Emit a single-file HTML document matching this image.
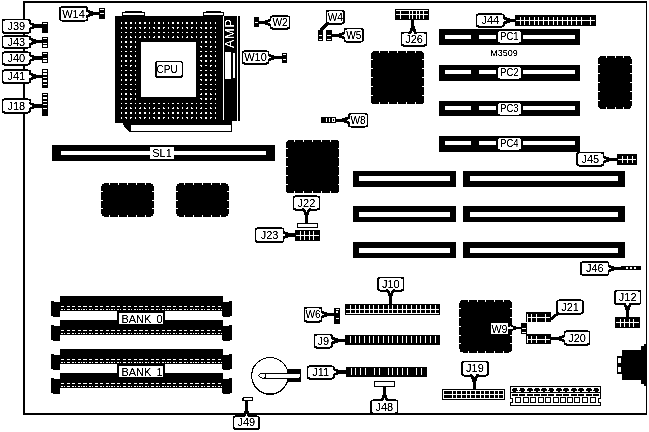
<!DOCTYPE html>
<html><head><meta charset="utf-8"><title>M3509</title>
<style>html,body{margin:0;padding:0;background:#fff;}svg{display:block;}</style></head>
<body>
<svg width="649" height="432" viewBox="0 0 649 432" font-family="Liberation Sans, sans-serif">
<defs><filter id="bw" x="0" y="0" width="100%" height="100%" color-interpolation-filters="sRGB"><feColorMatrix type="matrix" values="0.33 0.34 0.33 0 0 0.33 0.34 0.33 0 0 0.33 0.34 0.33 0 0 0 0 0 1 0"/><feComponentTransfer><feFuncR type="discrete" tableValues="0 0 0 0 0 1 1 1 1 1"/><feFuncG type="discrete" tableValues="0 0 0 0 0 1 1 1 1 1"/><feFuncB type="discrete" tableValues="0 0 0 0 0 1 1 1 1 1"/></feComponentTransfer></filter>
<filter id="tx" x="0" y="0" width="100%" height="100%" color-interpolation-filters="sRGB"><feComponentTransfer><feFuncA type="linear" slope="2.4" intercept="-0.55"/></feComponentTransfer></filter></defs>
<g filter="url(#bw)">
<rect x="0.00" y="0.00" width="649.00" height="432.00" fill="#fff" />
<rect x="23.00" y="1.00" width="624.00" height="2.00" fill="#000" />
<rect x="23.00" y="1.00" width="2.00" height="414.00" fill="#000" />
<rect x="23.00" y="413.00" width="624.00" height="2.00" fill="#000" />
<rect x="646.00" y="1.00" width="1.00" height="414.00" fill="#000" />
<rect x="115.00" y="16.00" width="106.00" height="107.00" fill="#000" />
<rect x="122.00" y="12.00" width="23.00" height="4.00" fill="#000" />
<rect x="123.00" y="13.00" width="21.00" height="2.00" fill="#fff" />
<rect x="125.00" y="11.00" width="17.00" height="1.00" fill="#000" />
<rect x="203.00" y="12.00" width="21.00" height="4.00" fill="#000" />
<rect x="204.00" y="13.00" width="19.00" height="2.00" fill="#fff" />
<rect x="206.00" y="11.00" width="15.00" height="1.00" fill="#000" />
<rect x="120.55" y="22.15" width="1.70" height="1.70" fill="#fff" />
<rect x="120.55" y="26.89" width="1.70" height="1.70" fill="#fff" />
<rect x="120.55" y="31.63" width="1.70" height="1.70" fill="#fff" />
<rect x="120.55" y="36.37" width="1.70" height="1.70" fill="#fff" />
<rect x="120.55" y="41.11" width="1.70" height="1.70" fill="#fff" />
<rect x="120.55" y="45.85" width="1.70" height="1.70" fill="#fff" />
<rect x="120.55" y="50.59" width="1.70" height="1.70" fill="#fff" />
<rect x="120.55" y="55.33" width="1.70" height="1.70" fill="#fff" />
<rect x="120.55" y="60.07" width="1.70" height="1.70" fill="#fff" />
<rect x="120.55" y="64.81" width="1.70" height="1.70" fill="#fff" />
<rect x="120.55" y="69.55" width="1.70" height="1.70" fill="#fff" />
<rect x="120.55" y="74.29" width="1.70" height="1.70" fill="#fff" />
<rect x="120.55" y="79.03" width="1.70" height="1.70" fill="#fff" />
<rect x="120.55" y="83.77" width="1.70" height="1.70" fill="#fff" />
<rect x="120.55" y="88.51" width="1.70" height="1.70" fill="#fff" />
<rect x="120.55" y="93.25" width="1.70" height="1.70" fill="#fff" />
<rect x="120.55" y="97.99" width="1.70" height="1.70" fill="#fff" />
<rect x="120.55" y="102.73" width="1.70" height="1.70" fill="#fff" />
<rect x="120.55" y="107.47" width="1.70" height="1.70" fill="#fff" />
<rect x="120.55" y="112.21" width="1.70" height="1.70" fill="#fff" />
<rect x="120.55" y="116.95" width="1.70" height="1.70" fill="#fff" />
<rect x="125.25" y="22.15" width="1.70" height="1.70" fill="#fff" />
<rect x="125.25" y="26.89" width="1.70" height="1.70" fill="#fff" />
<rect x="125.25" y="31.63" width="1.70" height="1.70" fill="#fff" />
<rect x="125.25" y="36.37" width="1.70" height="1.70" fill="#fff" />
<rect x="125.25" y="41.11" width="1.70" height="1.70" fill="#fff" />
<rect x="125.25" y="45.85" width="1.70" height="1.70" fill="#fff" />
<rect x="125.25" y="50.59" width="1.70" height="1.70" fill="#fff" />
<rect x="125.25" y="55.33" width="1.70" height="1.70" fill="#fff" />
<rect x="125.25" y="60.07" width="1.70" height="1.70" fill="#fff" />
<rect x="125.25" y="64.81" width="1.70" height="1.70" fill="#fff" />
<rect x="125.25" y="69.55" width="1.70" height="1.70" fill="#fff" />
<rect x="125.25" y="74.29" width="1.70" height="1.70" fill="#fff" />
<rect x="125.25" y="79.03" width="1.70" height="1.70" fill="#fff" />
<rect x="125.25" y="83.77" width="1.70" height="1.70" fill="#fff" />
<rect x="125.25" y="88.51" width="1.70" height="1.70" fill="#fff" />
<rect x="125.25" y="93.25" width="1.70" height="1.70" fill="#fff" />
<rect x="125.25" y="97.99" width="1.70" height="1.70" fill="#fff" />
<rect x="125.25" y="102.73" width="1.70" height="1.70" fill="#fff" />
<rect x="125.25" y="107.47" width="1.70" height="1.70" fill="#fff" />
<rect x="125.25" y="112.21" width="1.70" height="1.70" fill="#fff" />
<rect x="125.25" y="116.95" width="1.70" height="1.70" fill="#fff" />
<rect x="129.95" y="22.15" width="1.70" height="1.70" fill="#fff" />
<rect x="129.95" y="26.89" width="1.70" height="1.70" fill="#fff" />
<rect x="129.95" y="31.63" width="1.70" height="1.70" fill="#fff" />
<rect x="129.95" y="36.37" width="1.70" height="1.70" fill="#fff" />
<rect x="129.95" y="41.11" width="1.70" height="1.70" fill="#fff" />
<rect x="129.95" y="45.85" width="1.70" height="1.70" fill="#fff" />
<rect x="129.95" y="50.59" width="1.70" height="1.70" fill="#fff" />
<rect x="129.95" y="55.33" width="1.70" height="1.70" fill="#fff" />
<rect x="129.95" y="60.07" width="1.70" height="1.70" fill="#fff" />
<rect x="129.95" y="64.81" width="1.70" height="1.70" fill="#fff" />
<rect x="129.95" y="69.55" width="1.70" height="1.70" fill="#fff" />
<rect x="129.95" y="74.29" width="1.70" height="1.70" fill="#fff" />
<rect x="129.95" y="79.03" width="1.70" height="1.70" fill="#fff" />
<rect x="129.95" y="83.77" width="1.70" height="1.70" fill="#fff" />
<rect x="129.95" y="88.51" width="1.70" height="1.70" fill="#fff" />
<rect x="129.95" y="93.25" width="1.70" height="1.70" fill="#fff" />
<rect x="129.95" y="97.99" width="1.70" height="1.70" fill="#fff" />
<rect x="129.95" y="102.73" width="1.70" height="1.70" fill="#fff" />
<rect x="129.95" y="107.47" width="1.70" height="1.70" fill="#fff" />
<rect x="129.95" y="112.21" width="1.70" height="1.70" fill="#fff" />
<rect x="129.95" y="116.95" width="1.70" height="1.70" fill="#fff" />
<rect x="134.65" y="22.15" width="1.70" height="1.70" fill="#fff" />
<rect x="134.65" y="26.89" width="1.70" height="1.70" fill="#fff" />
<rect x="134.65" y="31.63" width="1.70" height="1.70" fill="#fff" />
<rect x="134.65" y="36.37" width="1.70" height="1.70" fill="#fff" />
<rect x="134.65" y="41.11" width="1.70" height="1.70" fill="#fff" />
<rect x="134.65" y="45.85" width="1.70" height="1.70" fill="#fff" />
<rect x="134.65" y="50.59" width="1.70" height="1.70" fill="#fff" />
<rect x="134.65" y="55.33" width="1.70" height="1.70" fill="#fff" />
<rect x="134.65" y="60.07" width="1.70" height="1.70" fill="#fff" />
<rect x="134.65" y="64.81" width="1.70" height="1.70" fill="#fff" />
<rect x="134.65" y="69.55" width="1.70" height="1.70" fill="#fff" />
<rect x="134.65" y="74.29" width="1.70" height="1.70" fill="#fff" />
<rect x="134.65" y="79.03" width="1.70" height="1.70" fill="#fff" />
<rect x="134.65" y="83.77" width="1.70" height="1.70" fill="#fff" />
<rect x="134.65" y="88.51" width="1.70" height="1.70" fill="#fff" />
<rect x="134.65" y="93.25" width="1.70" height="1.70" fill="#fff" />
<rect x="134.65" y="97.99" width="1.70" height="1.70" fill="#fff" />
<rect x="134.65" y="102.73" width="1.70" height="1.70" fill="#fff" />
<rect x="134.65" y="107.47" width="1.70" height="1.70" fill="#fff" />
<rect x="134.65" y="112.21" width="1.70" height="1.70" fill="#fff" />
<rect x="134.65" y="116.95" width="1.70" height="1.70" fill="#fff" />
<rect x="139.35" y="22.15" width="1.70" height="1.70" fill="#fff" />
<rect x="139.35" y="26.89" width="1.70" height="1.70" fill="#fff" />
<rect x="139.35" y="31.63" width="1.70" height="1.70" fill="#fff" />
<rect x="139.35" y="36.37" width="1.70" height="1.70" fill="#fff" />
<rect x="139.35" y="102.73" width="1.70" height="1.70" fill="#fff" />
<rect x="139.35" y="107.47" width="1.70" height="1.70" fill="#fff" />
<rect x="139.35" y="112.21" width="1.70" height="1.70" fill="#fff" />
<rect x="139.35" y="116.95" width="1.70" height="1.70" fill="#fff" />
<rect x="144.05" y="22.15" width="1.70" height="1.70" fill="#fff" />
<rect x="144.05" y="26.89" width="1.70" height="1.70" fill="#fff" />
<rect x="144.05" y="31.63" width="1.70" height="1.70" fill="#fff" />
<rect x="144.05" y="36.37" width="1.70" height="1.70" fill="#fff" />
<rect x="144.05" y="102.73" width="1.70" height="1.70" fill="#fff" />
<rect x="144.05" y="107.47" width="1.70" height="1.70" fill="#fff" />
<rect x="144.05" y="112.21" width="1.70" height="1.70" fill="#fff" />
<rect x="144.05" y="116.95" width="1.70" height="1.70" fill="#fff" />
<rect x="148.75" y="22.15" width="1.70" height="1.70" fill="#fff" />
<rect x="148.75" y="26.89" width="1.70" height="1.70" fill="#fff" />
<rect x="148.75" y="31.63" width="1.70" height="1.70" fill="#fff" />
<rect x="148.75" y="36.37" width="1.70" height="1.70" fill="#fff" />
<rect x="148.75" y="102.73" width="1.70" height="1.70" fill="#fff" />
<rect x="148.75" y="107.47" width="1.70" height="1.70" fill="#fff" />
<rect x="148.75" y="112.21" width="1.70" height="1.70" fill="#fff" />
<rect x="148.75" y="116.95" width="1.70" height="1.70" fill="#fff" />
<rect x="153.45" y="22.15" width="1.70" height="1.70" fill="#fff" />
<rect x="153.45" y="26.89" width="1.70" height="1.70" fill="#fff" />
<rect x="153.45" y="31.63" width="1.70" height="1.70" fill="#fff" />
<rect x="153.45" y="36.37" width="1.70" height="1.70" fill="#fff" />
<rect x="153.45" y="102.73" width="1.70" height="1.70" fill="#fff" />
<rect x="153.45" y="107.47" width="1.70" height="1.70" fill="#fff" />
<rect x="153.45" y="112.21" width="1.70" height="1.70" fill="#fff" />
<rect x="153.45" y="116.95" width="1.70" height="1.70" fill="#fff" />
<rect x="158.15" y="22.15" width="1.70" height="1.70" fill="#fff" />
<rect x="158.15" y="26.89" width="1.70" height="1.70" fill="#fff" />
<rect x="158.15" y="31.63" width="1.70" height="1.70" fill="#fff" />
<rect x="158.15" y="36.37" width="1.70" height="1.70" fill="#fff" />
<rect x="158.15" y="102.73" width="1.70" height="1.70" fill="#fff" />
<rect x="158.15" y="107.47" width="1.70" height="1.70" fill="#fff" />
<rect x="158.15" y="112.21" width="1.70" height="1.70" fill="#fff" />
<rect x="158.15" y="116.95" width="1.70" height="1.70" fill="#fff" />
<rect x="162.85" y="22.15" width="1.70" height="1.70" fill="#fff" />
<rect x="162.85" y="26.89" width="1.70" height="1.70" fill="#fff" />
<rect x="162.85" y="31.63" width="1.70" height="1.70" fill="#fff" />
<rect x="162.85" y="36.37" width="1.70" height="1.70" fill="#fff" />
<rect x="162.85" y="102.73" width="1.70" height="1.70" fill="#fff" />
<rect x="162.85" y="107.47" width="1.70" height="1.70" fill="#fff" />
<rect x="162.85" y="112.21" width="1.70" height="1.70" fill="#fff" />
<rect x="162.85" y="116.95" width="1.70" height="1.70" fill="#fff" />
<rect x="167.55" y="22.15" width="1.70" height="1.70" fill="#fff" />
<rect x="167.55" y="26.89" width="1.70" height="1.70" fill="#fff" />
<rect x="167.55" y="31.63" width="1.70" height="1.70" fill="#fff" />
<rect x="167.55" y="36.37" width="1.70" height="1.70" fill="#fff" />
<rect x="167.55" y="102.73" width="1.70" height="1.70" fill="#fff" />
<rect x="167.55" y="107.47" width="1.70" height="1.70" fill="#fff" />
<rect x="167.55" y="112.21" width="1.70" height="1.70" fill="#fff" />
<rect x="167.55" y="116.95" width="1.70" height="1.70" fill="#fff" />
<rect x="172.25" y="22.15" width="1.70" height="1.70" fill="#fff" />
<rect x="172.25" y="26.89" width="1.70" height="1.70" fill="#fff" />
<rect x="172.25" y="31.63" width="1.70" height="1.70" fill="#fff" />
<rect x="172.25" y="36.37" width="1.70" height="1.70" fill="#fff" />
<rect x="172.25" y="102.73" width="1.70" height="1.70" fill="#fff" />
<rect x="172.25" y="107.47" width="1.70" height="1.70" fill="#fff" />
<rect x="172.25" y="112.21" width="1.70" height="1.70" fill="#fff" />
<rect x="172.25" y="116.95" width="1.70" height="1.70" fill="#fff" />
<rect x="176.95" y="22.15" width="1.70" height="1.70" fill="#fff" />
<rect x="176.95" y="26.89" width="1.70" height="1.70" fill="#fff" />
<rect x="176.95" y="31.63" width="1.70" height="1.70" fill="#fff" />
<rect x="176.95" y="36.37" width="1.70" height="1.70" fill="#fff" />
<rect x="176.95" y="102.73" width="1.70" height="1.70" fill="#fff" />
<rect x="176.95" y="107.47" width="1.70" height="1.70" fill="#fff" />
<rect x="176.95" y="112.21" width="1.70" height="1.70" fill="#fff" />
<rect x="176.95" y="116.95" width="1.70" height="1.70" fill="#fff" />
<rect x="181.65" y="22.15" width="1.70" height="1.70" fill="#fff" />
<rect x="181.65" y="26.89" width="1.70" height="1.70" fill="#fff" />
<rect x="181.65" y="31.63" width="1.70" height="1.70" fill="#fff" />
<rect x="181.65" y="36.37" width="1.70" height="1.70" fill="#fff" />
<rect x="181.65" y="102.73" width="1.70" height="1.70" fill="#fff" />
<rect x="181.65" y="107.47" width="1.70" height="1.70" fill="#fff" />
<rect x="181.65" y="112.21" width="1.70" height="1.70" fill="#fff" />
<rect x="181.65" y="116.95" width="1.70" height="1.70" fill="#fff" />
<rect x="186.35" y="22.15" width="1.70" height="1.70" fill="#fff" />
<rect x="186.35" y="26.89" width="1.70" height="1.70" fill="#fff" />
<rect x="186.35" y="31.63" width="1.70" height="1.70" fill="#fff" />
<rect x="186.35" y="36.37" width="1.70" height="1.70" fill="#fff" />
<rect x="186.35" y="102.73" width="1.70" height="1.70" fill="#fff" />
<rect x="186.35" y="107.47" width="1.70" height="1.70" fill="#fff" />
<rect x="186.35" y="112.21" width="1.70" height="1.70" fill="#fff" />
<rect x="186.35" y="116.95" width="1.70" height="1.70" fill="#fff" />
<rect x="191.05" y="22.15" width="1.70" height="1.70" fill="#fff" />
<rect x="191.05" y="26.89" width="1.70" height="1.70" fill="#fff" />
<rect x="191.05" y="31.63" width="1.70" height="1.70" fill="#fff" />
<rect x="191.05" y="36.37" width="1.70" height="1.70" fill="#fff" />
<rect x="191.05" y="102.73" width="1.70" height="1.70" fill="#fff" />
<rect x="191.05" y="107.47" width="1.70" height="1.70" fill="#fff" />
<rect x="191.05" y="112.21" width="1.70" height="1.70" fill="#fff" />
<rect x="191.05" y="116.95" width="1.70" height="1.70" fill="#fff" />
<rect x="195.75" y="22.15" width="1.70" height="1.70" fill="#fff" />
<rect x="195.75" y="26.89" width="1.70" height="1.70" fill="#fff" />
<rect x="195.75" y="31.63" width="1.70" height="1.70" fill="#fff" />
<rect x="195.75" y="36.37" width="1.70" height="1.70" fill="#fff" />
<rect x="195.75" y="102.73" width="1.70" height="1.70" fill="#fff" />
<rect x="195.75" y="107.47" width="1.70" height="1.70" fill="#fff" />
<rect x="195.75" y="112.21" width="1.70" height="1.70" fill="#fff" />
<rect x="195.75" y="116.95" width="1.70" height="1.70" fill="#fff" />
<rect x="200.45" y="22.15" width="1.70" height="1.70" fill="#fff" />
<rect x="200.45" y="26.89" width="1.70" height="1.70" fill="#fff" />
<rect x="200.45" y="31.63" width="1.70" height="1.70" fill="#fff" />
<rect x="200.45" y="36.37" width="1.70" height="1.70" fill="#fff" />
<rect x="200.45" y="41.11" width="1.70" height="1.70" fill="#fff" />
<rect x="200.45" y="45.85" width="1.70" height="1.70" fill="#fff" />
<rect x="200.45" y="50.59" width="1.70" height="1.70" fill="#fff" />
<rect x="200.45" y="55.33" width="1.70" height="1.70" fill="#fff" />
<rect x="200.45" y="60.07" width="1.70" height="1.70" fill="#fff" />
<rect x="200.45" y="64.81" width="1.70" height="1.70" fill="#fff" />
<rect x="200.45" y="69.55" width="1.70" height="1.70" fill="#fff" />
<rect x="200.45" y="74.29" width="1.70" height="1.70" fill="#fff" />
<rect x="200.45" y="79.03" width="1.70" height="1.70" fill="#fff" />
<rect x="200.45" y="83.77" width="1.70" height="1.70" fill="#fff" />
<rect x="200.45" y="88.51" width="1.70" height="1.70" fill="#fff" />
<rect x="200.45" y="93.25" width="1.70" height="1.70" fill="#fff" />
<rect x="200.45" y="97.99" width="1.70" height="1.70" fill="#fff" />
<rect x="200.45" y="102.73" width="1.70" height="1.70" fill="#fff" />
<rect x="200.45" y="107.47" width="1.70" height="1.70" fill="#fff" />
<rect x="200.45" y="112.21" width="1.70" height="1.70" fill="#fff" />
<rect x="200.45" y="116.95" width="1.70" height="1.70" fill="#fff" />
<rect x="205.15" y="22.15" width="1.70" height="1.70" fill="#fff" />
<rect x="205.15" y="26.89" width="1.70" height="1.70" fill="#fff" />
<rect x="205.15" y="31.63" width="1.70" height="1.70" fill="#fff" />
<rect x="205.15" y="36.37" width="1.70" height="1.70" fill="#fff" />
<rect x="205.15" y="41.11" width="1.70" height="1.70" fill="#fff" />
<rect x="205.15" y="45.85" width="1.70" height="1.70" fill="#fff" />
<rect x="205.15" y="50.59" width="1.70" height="1.70" fill="#fff" />
<rect x="205.15" y="55.33" width="1.70" height="1.70" fill="#fff" />
<rect x="205.15" y="60.07" width="1.70" height="1.70" fill="#fff" />
<rect x="205.15" y="64.81" width="1.70" height="1.70" fill="#fff" />
<rect x="205.15" y="69.55" width="1.70" height="1.70" fill="#fff" />
<rect x="205.15" y="74.29" width="1.70" height="1.70" fill="#fff" />
<rect x="205.15" y="79.03" width="1.70" height="1.70" fill="#fff" />
<rect x="205.15" y="83.77" width="1.70" height="1.70" fill="#fff" />
<rect x="205.15" y="88.51" width="1.70" height="1.70" fill="#fff" />
<rect x="205.15" y="93.25" width="1.70" height="1.70" fill="#fff" />
<rect x="205.15" y="97.99" width="1.70" height="1.70" fill="#fff" />
<rect x="205.15" y="102.73" width="1.70" height="1.70" fill="#fff" />
<rect x="205.15" y="107.47" width="1.70" height="1.70" fill="#fff" />
<rect x="205.15" y="112.21" width="1.70" height="1.70" fill="#fff" />
<rect x="205.15" y="116.95" width="1.70" height="1.70" fill="#fff" />
<rect x="209.85" y="22.15" width="1.70" height="1.70" fill="#fff" />
<rect x="209.85" y="26.89" width="1.70" height="1.70" fill="#fff" />
<rect x="209.85" y="31.63" width="1.70" height="1.70" fill="#fff" />
<rect x="209.85" y="36.37" width="1.70" height="1.70" fill="#fff" />
<rect x="209.85" y="41.11" width="1.70" height="1.70" fill="#fff" />
<rect x="209.85" y="45.85" width="1.70" height="1.70" fill="#fff" />
<rect x="209.85" y="50.59" width="1.70" height="1.70" fill="#fff" />
<rect x="209.85" y="55.33" width="1.70" height="1.70" fill="#fff" />
<rect x="209.85" y="60.07" width="1.70" height="1.70" fill="#fff" />
<rect x="209.85" y="64.81" width="1.70" height="1.70" fill="#fff" />
<rect x="209.85" y="69.55" width="1.70" height="1.70" fill="#fff" />
<rect x="209.85" y="74.29" width="1.70" height="1.70" fill="#fff" />
<rect x="209.85" y="79.03" width="1.70" height="1.70" fill="#fff" />
<rect x="209.85" y="83.77" width="1.70" height="1.70" fill="#fff" />
<rect x="209.85" y="88.51" width="1.70" height="1.70" fill="#fff" />
<rect x="209.85" y="93.25" width="1.70" height="1.70" fill="#fff" />
<rect x="209.85" y="97.99" width="1.70" height="1.70" fill="#fff" />
<rect x="209.85" y="102.73" width="1.70" height="1.70" fill="#fff" />
<rect x="209.85" y="107.47" width="1.70" height="1.70" fill="#fff" />
<rect x="209.85" y="112.21" width="1.70" height="1.70" fill="#fff" />
<rect x="209.85" y="116.95" width="1.70" height="1.70" fill="#fff" />
<rect x="214.55" y="22.15" width="1.70" height="1.70" fill="#fff" />
<rect x="214.55" y="26.89" width="1.70" height="1.70" fill="#fff" />
<rect x="214.55" y="31.63" width="1.70" height="1.70" fill="#fff" />
<rect x="214.55" y="36.37" width="1.70" height="1.70" fill="#fff" />
<rect x="214.55" y="41.11" width="1.70" height="1.70" fill="#fff" />
<rect x="214.55" y="45.85" width="1.70" height="1.70" fill="#fff" />
<rect x="214.55" y="50.59" width="1.70" height="1.70" fill="#fff" />
<rect x="214.55" y="55.33" width="1.70" height="1.70" fill="#fff" />
<rect x="214.55" y="60.07" width="1.70" height="1.70" fill="#fff" />
<rect x="214.55" y="64.81" width="1.70" height="1.70" fill="#fff" />
<rect x="214.55" y="69.55" width="1.70" height="1.70" fill="#fff" />
<rect x="214.55" y="74.29" width="1.70" height="1.70" fill="#fff" />
<rect x="214.55" y="79.03" width="1.70" height="1.70" fill="#fff" />
<rect x="214.55" y="83.77" width="1.70" height="1.70" fill="#fff" />
<rect x="214.55" y="88.51" width="1.70" height="1.70" fill="#fff" />
<rect x="214.55" y="93.25" width="1.70" height="1.70" fill="#fff" />
<rect x="214.55" y="97.99" width="1.70" height="1.70" fill="#fff" />
<rect x="214.55" y="102.73" width="1.70" height="1.70" fill="#fff" />
<rect x="214.55" y="107.47" width="1.70" height="1.70" fill="#fff" />
<rect x="214.55" y="112.21" width="1.70" height="1.70" fill="#fff" />
<rect x="214.55" y="116.95" width="1.70" height="1.70" fill="#fff" />
<rect x="141.00" y="42.00" width="55.00" height="55.00" fill="#fff" />
<rect x="221.00" y="16.00" width="2.00" height="105.00" fill="#000" />
<rect x="224.00" y="16.00" width="13.00" height="105.00" fill="#000" />
<rect x="238.00" y="16.00" width="2.00" height="105.00" fill="#000" />
<rect x="225.00" y="52.00" width="6.00" height="27.00" fill="#fff" />
<rect x="233.00" y="53.00" width="2.00" height="25.00" fill="#fff" />
<polygon points="123.5,122 221,122 221,120.6 232,120.6 232,131.9 129.8,131.9 123.5,125.5" fill="#000"/>
<rect x="131.00" y="125.00" width="100.00" height="6.00" fill="#fff" />
<rect x="155.00" y="60.80" width="28.00" height="17.10" rx="2.4" ry="2.4" fill="#000"/>
<rect x="156.60" y="62.30" width="24.90" height="13.70" rx="1.2" ry="1.2" fill="#fff"/>
<rect x="52.00" y="145.00" width="223.00" height="16.00" fill="#000" />
<rect x="61.00" y="151.00" width="205.00" height="4.00" fill="#fff" />
<rect x="150.00" y="147.00" width="24.00" height="12.00" fill="#fff" />
<rect x="101" y="183" width="53" height="34" rx="5" ry="5" fill="#000"/>
<rect x="109.00" y="183.00" width="1.00" height="2.00" fill="#fff" />
<rect x="109.00" y="215.00" width="1.00" height="2.00" fill="#fff" />
<rect x="118.00" y="183.00" width="1.00" height="2.00" fill="#fff" />
<rect x="118.00" y="215.00" width="1.00" height="2.00" fill="#fff" />
<rect x="127.00" y="183.00" width="1.00" height="2.00" fill="#fff" />
<rect x="127.00" y="215.00" width="1.00" height="2.00" fill="#fff" />
<rect x="136.00" y="183.00" width="1.00" height="2.00" fill="#fff" />
<rect x="136.00" y="215.00" width="1.00" height="2.00" fill="#fff" />
<rect x="145.00" y="183.00" width="1.00" height="2.00" fill="#fff" />
<rect x="145.00" y="215.00" width="1.00" height="2.00" fill="#fff" />
<rect x="101.00" y="191.00" width="2.00" height="1.00" fill="#fff" />
<rect x="152.00" y="191.00" width="2.00" height="1.00" fill="#fff" />
<rect x="101.00" y="200.00" width="2.00" height="1.00" fill="#fff" />
<rect x="152.00" y="200.00" width="2.00" height="1.00" fill="#fff" />
<rect x="101.00" y="208.00" width="2.00" height="1.00" fill="#fff" />
<rect x="152.00" y="208.00" width="2.00" height="1.00" fill="#fff" />
<rect x="176" y="183" width="53" height="34" rx="5" ry="5" fill="#000"/>
<rect x="184.00" y="183.00" width="1.00" height="2.00" fill="#fff" />
<rect x="184.00" y="215.00" width="1.00" height="2.00" fill="#fff" />
<rect x="193.00" y="183.00" width="1.00" height="2.00" fill="#fff" />
<rect x="193.00" y="215.00" width="1.00" height="2.00" fill="#fff" />
<rect x="202.00" y="183.00" width="1.00" height="2.00" fill="#fff" />
<rect x="202.00" y="215.00" width="1.00" height="2.00" fill="#fff" />
<rect x="211.00" y="183.00" width="1.00" height="2.00" fill="#fff" />
<rect x="211.00" y="215.00" width="1.00" height="2.00" fill="#fff" />
<rect x="220.00" y="183.00" width="1.00" height="2.00" fill="#fff" />
<rect x="220.00" y="215.00" width="1.00" height="2.00" fill="#fff" />
<rect x="176.00" y="191.00" width="2.00" height="1.00" fill="#fff" />
<rect x="227.00" y="191.00" width="2.00" height="1.00" fill="#fff" />
<rect x="176.00" y="200.00" width="2.00" height="1.00" fill="#fff" />
<rect x="227.00" y="200.00" width="2.00" height="1.00" fill="#fff" />
<rect x="176.00" y="208.00" width="2.00" height="1.00" fill="#fff" />
<rect x="227.00" y="208.00" width="2.00" height="1.00" fill="#fff" />
<rect x="286" y="140" width="53.30000000000001" height="53" rx="3.5" ry="3.5" fill="#000"/>
<rect x="294.00" y="140.00" width="1.00" height="2.00" fill="#fff" />
<rect x="294.00" y="191.00" width="1.00" height="2.00" fill="#fff" />
<rect x="303.00" y="140.00" width="1.00" height="2.00" fill="#fff" />
<rect x="303.00" y="191.00" width="1.00" height="2.00" fill="#fff" />
<rect x="312.00" y="140.00" width="1.00" height="2.00" fill="#fff" />
<rect x="312.00" y="191.00" width="1.00" height="2.00" fill="#fff" />
<rect x="321.00" y="140.00" width="1.00" height="2.00" fill="#fff" />
<rect x="321.00" y="191.00" width="1.00" height="2.00" fill="#fff" />
<rect x="330.00" y="140.00" width="1.00" height="2.00" fill="#fff" />
<rect x="330.00" y="191.00" width="1.00" height="2.00" fill="#fff" />
<rect x="286.00" y="148.00" width="2.00" height="1.00" fill="#fff" />
<rect x="338.00" y="148.00" width="1.00" height="1.00" fill="#fff" />
<rect x="286.00" y="157.00" width="2.00" height="1.00" fill="#fff" />
<rect x="338.00" y="157.00" width="1.00" height="1.00" fill="#fff" />
<rect x="286.00" y="166.00" width="2.00" height="1.00" fill="#fff" />
<rect x="338.00" y="166.00" width="1.00" height="1.00" fill="#fff" />
<rect x="286.00" y="175.00" width="2.00" height="1.00" fill="#fff" />
<rect x="338.00" y="175.00" width="1.00" height="1.00" fill="#fff" />
<rect x="286.00" y="184.00" width="2.00" height="1.00" fill="#fff" />
<rect x="338.00" y="184.00" width="1.00" height="1.00" fill="#fff" />
<rect x="371" y="51" width="53" height="53" rx="3.5" ry="3.5" fill="#000"/>
<rect x="379.00" y="51.00" width="1.00" height="2.00" fill="#fff" />
<rect x="379.00" y="102.00" width="1.00" height="2.00" fill="#fff" />
<rect x="388.00" y="51.00" width="1.00" height="2.00" fill="#fff" />
<rect x="388.00" y="102.00" width="1.00" height="2.00" fill="#fff" />
<rect x="397.00" y="51.00" width="1.00" height="2.00" fill="#fff" />
<rect x="397.00" y="102.00" width="1.00" height="2.00" fill="#fff" />
<rect x="406.00" y="51.00" width="1.00" height="2.00" fill="#fff" />
<rect x="406.00" y="102.00" width="1.00" height="2.00" fill="#fff" />
<rect x="415.00" y="51.00" width="1.00" height="2.00" fill="#fff" />
<rect x="415.00" y="102.00" width="1.00" height="2.00" fill="#fff" />
<rect x="371.00" y="59.00" width="2.00" height="1.00" fill="#fff" />
<rect x="422.00" y="59.00" width="2.00" height="1.00" fill="#fff" />
<rect x="371.00" y="68.00" width="2.00" height="1.00" fill="#fff" />
<rect x="422.00" y="68.00" width="2.00" height="1.00" fill="#fff" />
<rect x="371.00" y="77.00" width="2.00" height="1.00" fill="#fff" />
<rect x="422.00" y="77.00" width="2.00" height="1.00" fill="#fff" />
<rect x="371.00" y="86.00" width="2.00" height="1.00" fill="#fff" />
<rect x="422.00" y="86.00" width="2.00" height="1.00" fill="#fff" />
<rect x="371.00" y="95.00" width="2.00" height="1.00" fill="#fff" />
<rect x="422.00" y="95.00" width="2.00" height="1.00" fill="#fff" />
<rect x="598" y="56" width="34" height="53" rx="4.5" ry="4.5" fill="#000"/>
<rect x="606.00" y="56.00" width="1.00" height="2.00" fill="#fff" />
<rect x="606.00" y="107.00" width="1.00" height="2.00" fill="#fff" />
<rect x="615.00" y="56.00" width="1.00" height="2.00" fill="#fff" />
<rect x="615.00" y="107.00" width="1.00" height="2.00" fill="#fff" />
<rect x="623.00" y="56.00" width="1.00" height="2.00" fill="#fff" />
<rect x="623.00" y="107.00" width="1.00" height="2.00" fill="#fff" />
<rect x="598.00" y="64.00" width="2.00" height="1.00" fill="#fff" />
<rect x="630.00" y="64.00" width="2.00" height="1.00" fill="#fff" />
<rect x="598.00" y="73.00" width="2.00" height="1.00" fill="#fff" />
<rect x="630.00" y="73.00" width="2.00" height="1.00" fill="#fff" />
<rect x="598.00" y="82.00" width="2.00" height="1.00" fill="#fff" />
<rect x="630.00" y="82.00" width="2.00" height="1.00" fill="#fff" />
<rect x="598.00" y="91.00" width="2.00" height="1.00" fill="#fff" />
<rect x="630.00" y="91.00" width="2.00" height="1.00" fill="#fff" />
<rect x="598.00" y="100.00" width="2.00" height="1.00" fill="#fff" />
<rect x="630.00" y="100.00" width="2.00" height="1.00" fill="#fff" />
<rect x="459.5" y="300" width="52.5" height="52.5" rx="3.5" ry="3.5" fill="#000"/>
<rect x="468.00" y="300.00" width="1.00" height="2.00" fill="#fff" />
<rect x="468.00" y="351.00" width="1.00" height="2.00" fill="#fff" />
<rect x="477.00" y="300.00" width="1.00" height="2.00" fill="#fff" />
<rect x="477.00" y="351.00" width="1.00" height="2.00" fill="#fff" />
<rect x="485.00" y="300.00" width="1.00" height="2.00" fill="#fff" />
<rect x="485.00" y="351.00" width="1.00" height="2.00" fill="#fff" />
<rect x="494.00" y="300.00" width="1.00" height="2.00" fill="#fff" />
<rect x="494.00" y="351.00" width="1.00" height="2.00" fill="#fff" />
<rect x="503.00" y="300.00" width="1.00" height="2.00" fill="#fff" />
<rect x="503.00" y="351.00" width="1.00" height="2.00" fill="#fff" />
<rect x="459.00" y="308.00" width="2.00" height="1.00" fill="#fff" />
<rect x="510.00" y="308.00" width="2.00" height="1.00" fill="#fff" />
<rect x="459.00" y="317.00" width="2.00" height="1.00" fill="#fff" />
<rect x="510.00" y="317.00" width="2.00" height="1.00" fill="#fff" />
<rect x="459.00" y="326.00" width="2.00" height="1.00" fill="#fff" />
<rect x="510.00" y="326.00" width="2.00" height="1.00" fill="#fff" />
<rect x="459.00" y="335.00" width="2.00" height="1.00" fill="#fff" />
<rect x="510.00" y="335.00" width="2.00" height="1.00" fill="#fff" />
<rect x="459.00" y="343.00" width="2.00" height="1.00" fill="#fff" />
<rect x="510.00" y="343.00" width="2.00" height="1.00" fill="#fff" />
<rect x="439.00" y="29.00" width="141.00" height="16.00" fill="#000" />
<rect x="445.00" y="35.00" width="26.00" height="4.00" fill="#fff" />
<rect x="479.00" y="35.00" width="17.00" height="4.00" fill="#fff" />
<rect x="523.00" y="35.00" width="52.00" height="4.00" fill="#fff" />
<rect x="498" y="31" width="23" height="11.4" rx="1.5" fill="#fff"/>
<rect x="439.00" y="65.00" width="141.00" height="16.00" fill="#000" />
<rect x="445.00" y="70.00" width="26.00" height="4.00" fill="#fff" />
<rect x="479.00" y="70.00" width="17.00" height="4.00" fill="#fff" />
<rect x="523.00" y="70.00" width="52.00" height="4.00" fill="#fff" />
<rect x="498" y="67" width="23" height="11.4" rx="1.5" fill="#fff"/>
<rect x="439.00" y="101.00" width="141.00" height="15.00" fill="#000" />
<rect x="445.00" y="106.00" width="26.00" height="4.00" fill="#fff" />
<rect x="479.00" y="106.00" width="17.00" height="4.00" fill="#fff" />
<rect x="523.00" y="106.00" width="52.00" height="4.00" fill="#fff" />
<rect x="498" y="103" width="23" height="11.4" rx="1.5" fill="#fff"/>
<rect x="439.00" y="136.00" width="141.00" height="16.00" fill="#000" />
<rect x="445.00" y="141.00" width="26.00" height="4.00" fill="#fff" />
<rect x="479.00" y="141.00" width="17.00" height="4.00" fill="#fff" />
<rect x="523.00" y="141.00" width="52.00" height="4.00" fill="#fff" />
<rect x="498" y="138" width="23" height="11.4" rx="1.5" fill="#fff"/>
<rect x="353.00" y="171.00" width="103.00" height="16.00" fill="#000" />
<rect x="359.00" y="176.00" width="91.00" height="5.00" fill="#fff" />
<rect x="463.00" y="171.00" width="162.00" height="16.00" fill="#000" />
<rect x="470.00" y="176.00" width="148.00" height="5.00" fill="#fff" />
<rect x="353.00" y="206.00" width="103.00" height="16.00" fill="#000" />
<rect x="359.00" y="212.00" width="91.00" height="5.00" fill="#fff" />
<rect x="463.00" y="206.00" width="162.00" height="16.00" fill="#000" />
<rect x="470.00" y="212.00" width="148.00" height="5.00" fill="#fff" />
<rect x="353.00" y="242.00" width="103.00" height="16.00" fill="#000" />
<rect x="359.00" y="248.00" width="91.00" height="5.00" fill="#fff" />
<rect x="463.00" y="242.00" width="162.00" height="16.00" fill="#000" />
<rect x="470.00" y="248.00" width="148.00" height="5.00" fill="#fff" />
<rect x="60.00" y="296.00" width="163.00" height="15.00" fill="#000" />
<polygon points="51,301 54,301 54,302 60,302 60,316.6 53,316.6 53,315.6 51,315.6" fill="#000"/>
<polygon points="232,301 229,301 229,302 222.5,302 222.5,316.6 230,316.6 230,315.6 232,315.6" fill="#000"/>
<line x1="61" y1="306.4" x2="222" y2="306.4" stroke="#fff" stroke-width="1" stroke-dasharray="3.2 2.4"/>
<line x1="61" y1="309.5" x2="222" y2="309.5" stroke="#fff" stroke-width="0.9" stroke-dasharray="2 0.8 1 1.8"/>
<rect x="60.00" y="320.00" width="163.00" height="15.00" fill="#000" />
<polygon points="51,325 54,325 54,326 60,326 60,340.6 53,340.6 53,339.6 51,339.6" fill="#000"/>
<polygon points="232,325 229,325 229,326 222.5,326 222.5,340.6 230,340.6 230,339.6 232,339.6" fill="#000"/>
<line x1="61" y1="330.4" x2="222" y2="330.4" stroke="#fff" stroke-width="1" stroke-dasharray="3.2 2.4"/>
<line x1="61" y1="333.5" x2="222" y2="333.5" stroke="#fff" stroke-width="0.9" stroke-dasharray="2 0.8 1 1.8"/>
<rect x="60.00" y="349.00" width="163.00" height="15.00" fill="#000" />
<polygon points="51,354 54,354 54,355 60,355 60,369.6 53,369.6 53,368.6 51,368.6" fill="#000"/>
<polygon points="232,354 229,354 229,355 222.5,355 222.5,369.6 230,369.6 230,368.6 232,368.6" fill="#000"/>
<line x1="61" y1="359.4" x2="222" y2="359.4" stroke="#fff" stroke-width="1" stroke-dasharray="3.2 2.4"/>
<line x1="61" y1="362.5" x2="222" y2="362.5" stroke="#fff" stroke-width="0.9" stroke-dasharray="2 0.8 1 1.8"/>
<rect x="60.00" y="373.00" width="163.00" height="15.00" fill="#000" />
<polygon points="51,378 54,378 54,379 60,379 60,393.6 53,393.6 53,392.6 51,392.6" fill="#000"/>
<polygon points="232,378 229,378 229,379 222.5,379 222.5,393.6 230,393.6 230,392.6 232,392.6" fill="#000"/>
<line x1="61" y1="383.4" x2="222" y2="383.4" stroke="#fff" stroke-width="1" stroke-dasharray="3.2 2.4"/>
<line x1="61" y1="386.5" x2="222" y2="386.5" stroke="#fff" stroke-width="0.9" stroke-dasharray="2 0.8 1 1.8"/>
<rect x="117.00" y="311.00" width="48.00" height="14.00" fill="#000" />
<rect x="119.00" y="313.00" width="44.00" height="11.00" fill="#fff" />
<rect x="117.00" y="364.00" width="48.00" height="14.00" fill="#000" />
<rect x="119.00" y="366.00" width="44.00" height="11.00" fill="#fff" />
<circle cx="270" cy="375.8" r="18.3" fill="#fff" stroke="#000" stroke-width="1.2"/>
<rect x="288.00" y="369.00" width="13.00" height="13.00" fill="#000" />
<polygon points="258,375.6 262,373 300,373 300,378.2 262,378.2" fill="#fff" stroke="#000" stroke-width="1"/>
<line x1="265.00" y1="373.00" x2="265.00" y2="378.20" stroke="#000" stroke-width="1" />
<rect x="42.00" y="22.00" width="6.00" height="11.00" fill="#000" />
<rect x="43.00" y="23.00" width="4.00" height="1.00" fill="#fff" />
<rect x="42.00" y="37.00" width="6.00" height="11.00" fill="#000" />
<rect x="43.00" y="38.00" width="4.00" height="1.00" fill="#fff" />
<rect x="43.00" y="43.00" width="4.00" height="1.00" fill="#fff" />
<rect x="43.00" y="45.00" width="4.00" height="2.00" fill="#fff" />
<rect x="42.00" y="52.00" width="6.00" height="11.00" fill="#000" />
<rect x="43.00" y="53.00" width="4.00" height="1.00" fill="#fff" />
<rect x="43.00" y="58.00" width="4.00" height="1.00" fill="#fff" />
<rect x="43.00" y="60.00" width="4.00" height="2.00" fill="#fff" />
<rect x="42.00" y="69.00" width="6.00" height="19.00" fill="#000" />
<rect x="43.00" y="70.00" width="4.00" height="2.00" fill="#fff" />
<rect x="43.00" y="73.00" width="4.00" height="2.00" fill="#fff" />
<rect x="43.00" y="77.00" width="4.00" height="1.00" fill="#fff" />
<rect x="43.00" y="80.00" width="4.00" height="2.00" fill="#fff" />
<rect x="43.00" y="84.00" width="4.00" height="1.00" fill="#fff" />
<rect x="42.00" y="93.00" width="6.00" height="23.00" fill="#000" />
<rect x="43.00" y="94.00" width="4.00" height="1.00" fill="#fff" />
<rect x="43.00" y="97.00" width="4.00" height="2.00" fill="#fff" />
<rect x="43.00" y="101.00" width="4.00" height="1.00" fill="#fff" />
<rect x="43.00" y="104.00" width="4.00" height="1.00" fill="#fff" />
<rect x="43.00" y="108.00" width="4.00" height="1.00" fill="#fff" />
<rect x="1.60" y="19.00" width="29.40" height="14.80" rx="2.4" ry="2.4" fill="#000"/>
<rect x="3.20" y="20.50" width="26.30" height="11.40" rx="1.2" ry="1.2" fill="#fff"/>
<rect x="1.60" y="35.40" width="29.40" height="13.20" rx="2.4" ry="2.4" fill="#000"/>
<rect x="3.20" y="36.90" width="26.30" height="9.80" rx="1.2" ry="1.2" fill="#fff"/>
<rect x="1.60" y="51.60" width="29.40" height="13.80" rx="2.4" ry="2.4" fill="#000"/>
<rect x="3.20" y="53.10" width="26.30" height="10.40" rx="1.2" ry="1.2" fill="#fff"/>
<rect x="1.60" y="69.60" width="29.40" height="14.20" rx="2.4" ry="2.4" fill="#000"/>
<rect x="3.20" y="71.10" width="26.30" height="10.80" rx="1.2" ry="1.2" fill="#fff"/>
<rect x="1.60" y="98.60" width="29.40" height="14.80" rx="2.4" ry="2.4" fill="#000"/>
<rect x="3.20" y="100.10" width="26.30" height="11.40" rx="1.2" ry="1.2" fill="#fff"/>
<polygon points="29.30,21.80 37.30,24.50 42.00,24.50 42.00,27.50 37.30,27.50 29.30,30.20" fill="#000"/>
<polygon points="28.50,24.00 32.70,26.00 28.50,28.00" fill="#fff"/>
<polygon points="29.30,37.30 37.30,40.00 42.00,40.00 42.00,43.00 37.30,43.00 29.30,45.70" fill="#000"/>
<polygon points="28.50,39.50 32.70,41.50 28.50,43.50" fill="#fff"/>
<polygon points="29.30,53.80 37.30,56.50 42.00,56.50 42.00,59.50 37.30,59.50 29.30,62.20" fill="#000"/>
<polygon points="28.50,56.00 32.70,58.00 28.50,60.00" fill="#fff"/>
<polygon points="29.30,72.30 37.30,75.00 42.00,75.00 42.00,78.00 37.30,78.00 29.30,80.70" fill="#000"/>
<polygon points="28.50,74.50 32.70,76.50 28.50,78.50" fill="#fff"/>
<polygon points="29.30,101.80 37.30,104.50 42.00,104.50 42.00,107.50 37.30,107.50 29.30,110.20" fill="#000"/>
<polygon points="28.50,104.00 32.70,106.00 28.50,108.00" fill="#fff"/>
<rect x="59.10" y="6.20" width="28.90" height="15.40" rx="2.4" ry="2.4" fill="#000"/>
<rect x="60.70" y="7.70" width="25.80" height="12.00" rx="1.2" ry="1.2" fill="#fff"/>
<rect x="99.00" y="8.00" width="6.00" height="11.00" fill="#000" />
<rect x="100.00" y="9.00" width="4.00" height="1.00" fill="#fff" />
<rect x="100.00" y="13.00" width="4.00" height="1.00" fill="#fff" />
<polygon points="86.40,9.40 94.40,12.10 99.50,12.10 99.50,15.10 94.40,15.10 86.40,17.80" fill="#000"/>
<polygon points="85.60,11.60 89.80,13.60 85.60,15.60" fill="#fff"/>
<rect x="254.00" y="17.00" width="5.00" height="10.00" fill="#000" />
<rect x="255.00" y="22.00" width="3.00" height="1.00" fill="#fff" />
<rect x="269.60" y="15.60" width="20.80" height="13.80" rx="2.4" ry="2.4" fill="#000"/>
<rect x="271.20" y="17.10" width="17.70" height="10.40" rx="1.2" ry="1.2" fill="#fff"/>
<polygon points="271.30,18.30 263.30,21.00 259.00,21.00 259.00,24.00 263.30,24.00 271.30,26.70" fill="#000"/>
<polygon points="272.10,20.50 267.90,22.50 272.10,24.50" fill="#fff"/>
<rect x="241.60" y="50.60" width="27.80" height="13.80" rx="2.4" ry="2.4" fill="#000"/>
<rect x="243.20" y="52.10" width="24.70" height="10.40" rx="1.2" ry="1.2" fill="#fff"/>
<rect x="282.00" y="53.00" width="5.00" height="10.00" fill="#000" />
<rect x="283.00" y="54.00" width="3.00" height="1.00" fill="#fff" />
<rect x="283.00" y="59.00" width="3.00" height="1.00" fill="#fff" />
<polygon points="267.70,53.30 275.70,56.00 282.00,56.00 282.00,59.00 275.70,59.00 267.70,61.70" fill="#000"/>
<polygon points="266.90,55.50 271.10,57.50 266.90,59.50" fill="#fff"/>
<rect x="318.00" y="30.00" width="5.00" height="11.00" fill="#000" />
<rect x="319.00" y="35.00" width="3.00" height="1.00" fill="#fff" />
<rect x="319.00" y="39.00" width="3.00" height="1.00" fill="#fff" />
<rect x="326.00" y="30.00" width="6.00" height="11.00" fill="#000" />
<rect x="327.00" y="35.00" width="4.00" height="1.00" fill="#fff" />
<rect x="327.00" y="39.00" width="4.00" height="1.00" fill="#fff" />
<rect x="325.60" y="10.10" width="19.30" height="14.30" rx="2.4" ry="2.4" fill="#000"/>
<rect x="327.20" y="11.60" width="16.20" height="10.90" rx="1.2" ry="1.2" fill="#fff"/>
<line x1="327.50" y1="23.50" x2="320.50" y2="30.50" stroke="#000" stroke-width="2.8" />
<rect x="343.60" y="28.00" width="20.30" height="14.60" rx="2.4" ry="2.4" fill="#000"/>
<rect x="345.20" y="29.50" width="17.20" height="11.20" rx="1.2" ry="1.2" fill="#fff"/>
<polygon points="345.30,31.30 337.30,34.00 331.50,34.00 331.50,37.00 337.30,37.00 345.30,39.70" fill="#000"/>
<polygon points="346.10,33.50 341.90,35.50 346.10,37.50" fill="#fff"/>
<rect x="321.00" y="117.00" width="15.00" height="6.00" fill="#000" />
<rect x="326.00" y="118.00" width="1.00" height="4.00" fill="#fff" />
<rect x="329.00" y="118.00" width="1.00" height="4.00" fill="#fff" />
<rect x="332.00" y="118.00" width="3.00" height="4.00" fill="#fff" />
<rect x="333.00" y="119.00" width="1.00" height="2.00" fill="#000" />
<rect x="348.00" y="113.00" width="20.20" height="14.60" rx="2.4" ry="2.4" fill="#000"/>
<rect x="349.60" y="114.50" width="17.10" height="11.20" rx="1.2" ry="1.2" fill="#fff"/>
<polygon points="349.70,116.00 341.70,118.70 336.00,118.70 336.00,121.70 341.70,121.70 349.70,124.40" fill="#000"/>
<polygon points="350.50,118.20 346.30,120.20 350.50,122.20" fill="#fff"/>
<rect x="395.00" y="9.00" width="34.00" height="11.00" fill="#000" />
<rect x="400.00" y="11.00" width="1.00" height="8.00" fill="#fff" />
<rect x="409.00" y="11.00" width="1.00" height="8.00" fill="#fff" />
<rect x="412.00" y="11.00" width="1.00" height="8.00" fill="#fff" />
<rect x="416.00" y="11.00" width="1.00" height="8.00" fill="#fff" />
<rect x="419.00" y="11.00" width="1.00" height="8.00" fill="#fff" />
<rect x="423.00" y="11.00" width="1.00" height="8.00" fill="#fff" />
<rect x="396.00" y="10.00" width="32.00" height="1.00" fill="#fff" />
<rect x="396.00" y="14.00" width="32.00" height="1.00" fill="#fff" />
<rect x="400.60" y="32.10" width="26.80" height="14.30" rx="2.4" ry="2.4" fill="#000"/>
<rect x="402.20" y="33.60" width="23.70" height="10.90" rx="1.2" ry="1.2" fill="#fff"/>
<polygon points="408.60,33.80 411.30,25.80 411.30,19.70 414.30,19.70 414.30,25.80 417.00,33.80" fill="#000"/>
<polygon points="410.80,34.60 412.80,30.40 414.80,34.60" fill="#fff"/>
<rect x="515.00" y="15.00" width="81.00" height="11.00" fill="#000" />
<rect x="520.00" y="17.00" width="1.00" height="8.00" fill="#fff" />
<rect x="524.00" y="17.00" width="1.00" height="8.00" fill="#fff" />
<rect x="529.00" y="17.00" width="1.00" height="8.00" fill="#fff" />
<rect x="534.00" y="17.00" width="1.00" height="8.00" fill="#fff" />
<rect x="538.00" y="17.00" width="1.00" height="8.00" fill="#fff" />
<rect x="543.00" y="17.00" width="1.00" height="8.00" fill="#fff" />
<rect x="548.00" y="17.00" width="1.00" height="8.00" fill="#fff" />
<rect x="553.00" y="17.00" width="1.00" height="8.00" fill="#fff" />
<rect x="557.00" y="17.00" width="1.00" height="8.00" fill="#fff" />
<rect x="562.00" y="17.00" width="1.00" height="8.00" fill="#fff" />
<rect x="567.00" y="17.00" width="1.00" height="8.00" fill="#fff" />
<rect x="571.00" y="17.00" width="1.00" height="8.00" fill="#fff" />
<rect x="576.00" y="17.00" width="1.00" height="8.00" fill="#fff" />
<rect x="581.00" y="17.00" width="1.00" height="8.00" fill="#fff" />
<rect x="590.00" y="17.00" width="1.00" height="8.00" fill="#fff" />
<rect x="516.00" y="20.00" width="79.00" height="1.00" fill="#fff" />
<rect x="475.60" y="13.60" width="29.30" height="13.80" rx="2.4" ry="2.4" fill="#000"/>
<rect x="477.20" y="15.10" width="26.20" height="10.40" rx="1.2" ry="1.2" fill="#fff"/>
<polygon points="503.20,16.30 511.20,19.00 515.00,19.00 515.00,22.00 511.20,22.00 503.20,24.70" fill="#000"/>
<polygon points="502.40,18.50 506.60,20.50 502.40,22.50" fill="#fff"/>
<rect x="617.00" y="154.00" width="20.00" height="11.00" fill="#000" />
<rect x="622.00" y="156.00" width="1.00" height="7.00" fill="#fff" />
<rect x="627.00" y="156.00" width="1.00" height="7.00" fill="#fff" />
<rect x="632.00" y="156.00" width="1.00" height="7.00" fill="#fff" />
<rect x="618.00" y="159.00" width="18.00" height="1.00" fill="#fff" />
<rect x="576.10" y="152.10" width="28.30" height="14.30" rx="2.4" ry="2.4" fill="#000"/>
<rect x="577.70" y="153.60" width="25.20" height="10.90" rx="1.2" ry="1.2" fill="#fff"/>
<polygon points="602.70,155.30 610.70,158.00 617.50,158.00 617.50,161.00 610.70,161.00 602.70,163.70" fill="#000"/>
<polygon points="601.90,157.50 606.10,159.50 601.90,161.50" fill="#fff"/>
<rect x="621.00" y="266.00" width="20.00" height="4.00" fill="#000" />
<rect x="626.00" y="267.00" width="2.00" height="2.00" fill="#fff" />
<rect x="630.00" y="267.00" width="2.00" height="2.00" fill="#fff" />
<rect x="634.00" y="267.00" width="2.00" height="2.00" fill="#fff" />
<rect x="580.10" y="261.20" width="29.30" height="14.60" rx="2.4" ry="2.4" fill="#000"/>
<rect x="581.70" y="262.70" width="26.20" height="11.20" rx="1.2" ry="1.2" fill="#fff"/>
<polygon points="607.70,264.20 615.70,266.90 621.00,266.90 621.00,269.90 615.70,269.90 607.70,272.60" fill="#000"/>
<polygon points="606.90,266.40 611.10,268.40 606.90,270.40" fill="#fff"/>
<rect x="615.00" y="317.00" width="25.00" height="11.00" fill="#000" />
<rect x="620.00" y="319.00" width="1.00" height="8.00" fill="#fff" />
<rect x="624.00" y="319.00" width="1.00" height="8.00" fill="#fff" />
<rect x="629.00" y="319.00" width="1.00" height="8.00" fill="#fff" />
<rect x="633.00" y="319.00" width="1.00" height="8.00" fill="#fff" />
<rect x="616.00" y="322.00" width="23.00" height="1.00" fill="#fff" />
<rect x="614.00" y="290.00" width="27.40" height="14.90" rx="2.4" ry="2.4" fill="#000"/>
<rect x="615.60" y="291.50" width="24.30" height="11.50" rx="1.2" ry="1.2" fill="#fff"/>
<polygon points="623.30,303.20 626.00,311.20 626.00,317.00 629.00,317.00 629.00,311.20 631.70,303.20" fill="#000"/>
<polygon points="625.50,302.40 627.50,306.60 629.50,302.40" fill="#fff"/>
<rect x="526.00" y="312.00" width="25.00" height="10.00" fill="#000" />
<rect x="527.00" y="314.00" width="1.00" height="8.00" fill="#fff" />
<rect x="531.00" y="314.00" width="1.00" height="8.00" fill="#fff" />
<rect x="536.00" y="314.00" width="1.00" height="8.00" fill="#fff" />
<rect x="545.00" y="314.00" width="1.00" height="8.00" fill="#fff" />
<rect x="527.00" y="317.00" width="23.00" height="1.00" fill="#fff" />
<rect x="526.00" y="334.00" width="25.00" height="10.00" fill="#000" />
<rect x="527.00" y="336.00" width="1.00" height="7.00" fill="#fff" />
<rect x="531.00" y="336.00" width="1.00" height="7.00" fill="#fff" />
<rect x="536.00" y="336.00" width="1.00" height="7.00" fill="#fff" />
<rect x="545.00" y="336.00" width="1.00" height="7.00" fill="#fff" />
<rect x="527.00" y="339.00" width="23.00" height="1.00" fill="#fff" />
<rect x="556.30" y="299.40" width="27.50" height="15.00" rx="2.4" ry="2.4" fill="#000"/>
<rect x="557.90" y="300.90" width="24.40" height="11.60" rx="1.2" ry="1.2" fill="#fff"/>
<line x1="558.50" y1="313.00" x2="551.00" y2="319.00" stroke="#000" stroke-width="2.8" />
<rect x="563.60" y="330.60" width="26.80" height="14.80" rx="2.4" ry="2.4" fill="#000"/>
<rect x="565.20" y="332.10" width="23.70" height="11.40" rx="1.2" ry="1.2" fill="#fff"/>
<polygon points="565.30,334.30 557.30,337.00 551.00,337.00 551.00,340.00 557.30,340.00 565.30,342.70" fill="#000"/>
<polygon points="566.10,336.50 561.90,338.50 566.10,340.50" fill="#fff"/>
<rect x="521.00" y="323.00" width="6.00" height="11.00" fill="#000" />
<rect x="522.00" y="328.00" width="4.00" height="1.00" fill="#fff" />
<rect x="522.00" y="332.00" width="4.00" height="1.00" fill="#fff" />
<rect x="491.00" y="323.00" width="17.00" height="11.00" fill="#fff" />
<polygon points="511,325 517,326.9 521,326.9 521,329.3 517,329.3 511,331" fill="#000"/>
<polygon points="508,326.6 516,328.1 508,329.6" fill="#fff"/>
<rect x="442.00" y="389.00" width="63.00" height="11.00" fill="#000" />
<rect x="443.00" y="390.00" width="61.00" height="9.00" fill="#fff" />
<rect x="444.00" y="391.00" width="59.00" height="7.00" fill="#000" />
<rect x="444.00" y="394.00" width="59.00" height="1.00" fill="#fff" />
<rect x="452.00" y="391.00" width="1.00" height="7.00" fill="#fff" />
<rect x="456.00" y="391.00" width="1.00" height="7.00" fill="#fff" />
<rect x="461.00" y="391.00" width="1.00" height="7.00" fill="#fff" />
<rect x="466.00" y="391.00" width="1.00" height="7.00" fill="#fff" />
<rect x="470.00" y="391.00" width="1.00" height="7.00" fill="#fff" />
<rect x="475.00" y="391.00" width="1.00" height="7.00" fill="#fff" />
<rect x="480.00" y="391.00" width="1.00" height="7.00" fill="#fff" />
<rect x="484.00" y="391.00" width="1.00" height="7.00" fill="#fff" />
<rect x="489.00" y="391.00" width="1.00" height="7.00" fill="#fff" />
<rect x="494.00" y="391.00" width="1.00" height="7.00" fill="#fff" />
<rect x="498.00" y="391.00" width="1.00" height="7.00" fill="#fff" />
<rect x="461.00" y="360.90" width="27.90" height="15.50" rx="2.4" ry="2.4" fill="#000"/>
<rect x="462.60" y="362.40" width="24.80" height="12.10" rx="1.2" ry="1.2" fill="#fff"/>
<polygon points="470.10,374.70 472.80,382.70 472.80,389.00 475.80,389.00 475.80,382.70 478.50,374.70" fill="#000"/>
<polygon points="472.30,373.90 474.30,378.10 476.30,373.90" fill="#fff"/>
<rect x="345.00" y="304.00" width="95.00" height="11.00" fill="#000" />
<rect x="350.00" y="305.00" width="1.00" height="8.00" fill="#fff" />
<rect x="355.00" y="305.00" width="1.00" height="8.00" fill="#fff" />
<rect x="359.00" y="305.00" width="1.00" height="8.00" fill="#fff" />
<rect x="364.00" y="305.00" width="1.00" height="8.00" fill="#fff" />
<rect x="369.00" y="305.00" width="1.00" height="8.00" fill="#fff" />
<rect x="373.00" y="305.00" width="1.00" height="8.00" fill="#fff" />
<rect x="378.00" y="305.00" width="1.00" height="8.00" fill="#fff" />
<rect x="383.00" y="305.00" width="1.00" height="8.00" fill="#fff" />
<rect x="388.00" y="305.00" width="1.00" height="8.00" fill="#fff" />
<rect x="392.00" y="305.00" width="1.00" height="8.00" fill="#fff" />
<rect x="397.00" y="305.00" width="1.00" height="8.00" fill="#fff" />
<rect x="402.00" y="305.00" width="1.00" height="8.00" fill="#fff" />
<rect x="406.00" y="305.00" width="1.00" height="8.00" fill="#fff" />
<rect x="411.00" y="305.00" width="1.00" height="8.00" fill="#fff" />
<rect x="416.00" y="305.00" width="1.00" height="8.00" fill="#fff" />
<rect x="420.00" y="305.00" width="1.00" height="8.00" fill="#fff" />
<rect x="425.00" y="305.00" width="1.00" height="8.00" fill="#fff" />
<rect x="430.00" y="305.00" width="1.00" height="8.00" fill="#fff" />
<rect x="435.00" y="305.00" width="1.00" height="8.00" fill="#fff" />
<rect x="346.00" y="309.00" width="93.00" height="1.00" fill="#fff" />
<rect x="346.00" y="313.00" width="93.00" height="1.00" fill="#fff" />
<rect x="377.10" y="277.10" width="27.30" height="14.30" rx="2.4" ry="2.4" fill="#000"/>
<rect x="378.70" y="278.60" width="24.20" height="10.90" rx="1.2" ry="1.2" fill="#fff"/>
<polygon points="386.30,289.70 389.00,297.70 389.00,304.00 392.00,304.00 392.00,297.70 394.70,289.70" fill="#000"/>
<polygon points="388.50,288.90 390.50,293.10 392.50,288.90" fill="#fff"/>
<rect x="345.00" y="335.00" width="95.00" height="10.00" fill="#000" />
<rect x="350.00" y="336.00" width="1.00" height="7.00" fill="#fff" />
<rect x="355.00" y="336.00" width="1.00" height="7.00" fill="#fff" />
<rect x="359.00" y="336.00" width="1.00" height="7.00" fill="#fff" />
<rect x="364.00" y="336.00" width="1.00" height="7.00" fill="#fff" />
<rect x="369.00" y="336.00" width="1.00" height="7.00" fill="#fff" />
<rect x="373.00" y="336.00" width="1.00" height="7.00" fill="#fff" />
<rect x="378.00" y="336.00" width="1.00" height="7.00" fill="#fff" />
<rect x="383.00" y="336.00" width="1.00" height="7.00" fill="#fff" />
<rect x="388.00" y="336.00" width="1.00" height="7.00" fill="#fff" />
<rect x="392.00" y="336.00" width="1.00" height="7.00" fill="#fff" />
<rect x="397.00" y="336.00" width="1.00" height="7.00" fill="#fff" />
<rect x="402.00" y="336.00" width="1.00" height="7.00" fill="#fff" />
<rect x="406.00" y="336.00" width="1.00" height="7.00" fill="#fff" />
<rect x="411.00" y="336.00" width="1.00" height="7.00" fill="#fff" />
<rect x="416.00" y="336.00" width="1.00" height="7.00" fill="#fff" />
<rect x="420.00" y="336.00" width="1.00" height="7.00" fill="#fff" />
<rect x="425.00" y="336.00" width="1.00" height="7.00" fill="#fff" />
<rect x="430.00" y="336.00" width="1.00" height="7.00" fill="#fff" />
<rect x="435.00" y="336.00" width="1.00" height="7.00" fill="#fff" />
<rect x="313.60" y="334.10" width="19.30" height="14.30" rx="2.4" ry="2.4" fill="#000"/>
<rect x="315.20" y="335.60" width="16.20" height="10.90" rx="1.2" ry="1.2" fill="#fff"/>
<polygon points="331.20,336.30 339.20,339.00 345.00,339.00 345.00,342.00 339.20,342.00 331.20,344.70" fill="#000"/>
<polygon points="330.40,338.50 334.60,340.50 330.40,342.50" fill="#fff"/>
<rect x="346.00" y="367.00" width="81.00" height="10.00" fill="#000" />
<rect x="351.00" y="368.00" width="1.00" height="7.00" fill="#fff" />
<rect x="355.00" y="368.00" width="1.00" height="7.00" fill="#fff" />
<rect x="360.00" y="368.00" width="1.00" height="7.00" fill="#fff" />
<rect x="365.00" y="368.00" width="1.00" height="7.00" fill="#fff" />
<rect x="374.00" y="368.00" width="1.00" height="7.00" fill="#fff" />
<rect x="379.00" y="368.00" width="1.00" height="7.00" fill="#fff" />
<rect x="388.00" y="368.00" width="1.00" height="7.00" fill="#fff" />
<rect x="392.00" y="368.00" width="1.00" height="7.00" fill="#fff" />
<rect x="397.00" y="368.00" width="1.00" height="7.00" fill="#fff" />
<rect x="402.00" y="368.00" width="1.00" height="7.00" fill="#fff" />
<rect x="407.00" y="368.00" width="1.00" height="7.00" fill="#fff" />
<rect x="416.00" y="368.00" width="1.00" height="7.00" fill="#fff" />
<rect x="421.00" y="368.00" width="1.00" height="7.00" fill="#fff" />
<rect x="306.60" y="365.60" width="28.30" height="13.80" rx="2.4" ry="2.4" fill="#000"/>
<rect x="308.20" y="367.10" width="25.20" height="10.40" rx="1.2" ry="1.2" fill="#fff"/>
<polygon points="333.20,367.80 341.20,370.50 346.00,370.50 346.00,373.50 341.20,373.50 333.20,376.20" fill="#000"/>
<polygon points="332.40,370.00 336.60,372.00 332.40,374.00" fill="#fff"/>
<rect x="334.00" y="308.00" width="6.00" height="16.00" fill="#000" />
<rect x="336.00" y="311.00" width="2.00" height="2.00" fill="#fff" />
<rect x="336.00" y="318.00" width="3.00" height="1.00" fill="#fff" />
<rect x="336.00" y="309.00" width="3.00" height="1.00" fill="#fff" />
<rect x="303.60" y="307.10" width="18.80" height="15.30" rx="2.4" ry="2.4" fill="#000"/>
<rect x="305.20" y="308.60" width="15.70" height="11.90" rx="1.2" ry="1.2" fill="#fff"/>
<polygon points="320.70,310.30 328.70,313.00 334.50,313.00 334.50,316.00 328.70,316.00 320.70,318.70" fill="#000"/>
<polygon points="319.90,312.50 324.10,314.50 319.90,316.50" fill="#fff"/>
<rect x="374.7" y="381.4" width="19.8" height="5" fill="#fff" stroke="#000" stroke-width="1"/>
<rect x="370.10" y="399.60" width="28.30" height="14.80" rx="2.4" ry="2.4" fill="#000"/>
<rect x="371.70" y="401.10" width="25.20" height="11.40" rx="1.2" ry="1.2" fill="#fff"/>
<polygon points="380.30,401.30 383.00,393.30 383.00,387.00 386.00,387.00 386.00,393.30 388.70,401.30" fill="#000"/>
<polygon points="382.50,402.10 384.50,397.90 386.50,402.10" fill="#fff"/>
<rect x="243" y="397.8" width="9.3" height="3" fill="#fff" stroke="#000" stroke-width="1"/>
<rect x="232.60" y="415.60" width="27.30" height="14.30" rx="2.4" ry="2.4" fill="#000"/>
<rect x="234.20" y="417.10" width="24.20" height="10.90" rx="1.2" ry="1.2" fill="#fff"/>
<polygon points="242.30,417.30 245.00,409.30 245.00,401.00 248.00,401.00 248.00,409.30 250.70,417.30" fill="#000"/>
<polygon points="244.50,418.10 246.50,413.90 248.50,418.10" fill="#fff"/>
<rect x="297.5" y="223.2" width="20.3" height="4.6" fill="#fff" stroke="#000" stroke-width="1"/>
<rect x="292.60" y="195.60" width="27.60" height="14.80" rx="2.4" ry="2.4" fill="#000"/>
<rect x="294.20" y="197.10" width="24.50" height="11.40" rx="1.2" ry="1.2" fill="#fff"/>
<polygon points="302.30,208.70 305.00,216.70 305.00,222.80 308.00,222.80 308.00,216.70 310.70,208.70" fill="#000"/>
<polygon points="304.50,207.90 306.50,212.10 308.50,207.90" fill="#fff"/>
<rect x="295.00" y="230.00" width="25.00" height="11.00" fill="#000" />
<rect x="300.00" y="231.00" width="1.00" height="9.00" fill="#fff" />
<rect x="304.00" y="231.00" width="1.00" height="9.00" fill="#fff" />
<rect x="309.00" y="231.00" width="1.00" height="9.00" fill="#fff" />
<rect x="313.00" y="231.00" width="1.00" height="9.00" fill="#fff" />
<rect x="296.00" y="235.00" width="23.00" height="1.00" fill="#fff" />
<rect x="254.60" y="227.60" width="29.80" height="15.30" rx="2.4" ry="2.4" fill="#000"/>
<rect x="256.20" y="229.10" width="26.70" height="11.90" rx="1.2" ry="1.2" fill="#fff"/>
<polygon points="282.70,230.80 290.70,233.50 295.00,233.50 295.00,236.50 290.70,236.50 282.70,239.20" fill="#000"/>
<polygon points="281.90,233.00 286.10,235.00 281.90,237.00" fill="#fff"/>
<rect x="510.00" y="386.00" width="91.00" height="20.00" fill="#000" />
<rect x="511.00" y="387.00" width="89.00" height="18.00" fill="#fff" />
<rect x="512.95" y="387.80" width="3.60" height="1.80" fill="#000" />
<rect x="511.75" y="389.40" width="6.00" height="2.00" fill="#000" />
<rect x="513.55" y="391.20" width="2.40" height="1.30" fill="#000" />
<rect x="512.00" y="394.00" width="6.00" height="2.00" fill="#000" />
<rect x="520.45" y="387.80" width="3.60" height="1.80" fill="#000" />
<rect x="519.25" y="389.40" width="6.00" height="2.00" fill="#000" />
<rect x="521.05" y="391.20" width="2.40" height="1.30" fill="#000" />
<rect x="519.00" y="394.00" width="6.00" height="2.00" fill="#000" />
<rect x="528.20" y="387.80" width="3.60" height="1.80" fill="#000" />
<rect x="527.00" y="389.40" width="6.00" height="2.00" fill="#000" />
<rect x="528.80" y="391.20" width="2.40" height="1.30" fill="#000" />
<rect x="527.00" y="394.00" width="6.00" height="2.00" fill="#000" />
<rect x="535.20" y="387.80" width="3.60" height="1.80" fill="#000" />
<rect x="534.00" y="389.40" width="6.00" height="2.00" fill="#000" />
<rect x="535.80" y="391.20" width="2.40" height="1.30" fill="#000" />
<rect x="534.00" y="394.00" width="6.00" height="2.00" fill="#000" />
<rect x="542.20" y="387.80" width="3.60" height="1.80" fill="#000" />
<rect x="541.00" y="389.40" width="6.00" height="2.00" fill="#000" />
<rect x="542.80" y="391.20" width="2.40" height="1.30" fill="#000" />
<rect x="541.00" y="394.00" width="6.00" height="2.00" fill="#000" />
<rect x="549.40" y="387.80" width="3.60" height="1.80" fill="#000" />
<rect x="548.20" y="389.40" width="6.00" height="2.00" fill="#000" />
<rect x="550.00" y="391.20" width="2.40" height="1.30" fill="#000" />
<rect x="548.00" y="394.00" width="6.00" height="2.00" fill="#000" />
<rect x="557.20" y="387.80" width="3.60" height="1.80" fill="#000" />
<rect x="556.00" y="389.40" width="6.00" height="2.00" fill="#000" />
<rect x="557.80" y="391.20" width="2.40" height="1.30" fill="#000" />
<rect x="556.00" y="394.00" width="6.00" height="2.00" fill="#000" />
<rect x="564.20" y="387.80" width="3.60" height="1.80" fill="#000" />
<rect x="563.00" y="389.40" width="6.00" height="2.00" fill="#000" />
<rect x="564.80" y="391.20" width="2.40" height="1.30" fill="#000" />
<rect x="563.00" y="394.00" width="6.00" height="2.00" fill="#000" />
<rect x="572.20" y="387.80" width="3.60" height="1.80" fill="#000" />
<rect x="571.00" y="389.40" width="6.00" height="2.00" fill="#000" />
<rect x="572.80" y="391.20" width="2.40" height="1.30" fill="#000" />
<rect x="571.00" y="394.00" width="6.00" height="2.00" fill="#000" />
<rect x="579.20" y="387.80" width="3.60" height="1.80" fill="#000" />
<rect x="578.00" y="389.40" width="6.00" height="2.00" fill="#000" />
<rect x="579.80" y="391.20" width="2.40" height="1.30" fill="#000" />
<rect x="578.00" y="394.00" width="6.00" height="2.00" fill="#000" />
<rect x="587.20" y="387.80" width="3.60" height="1.80" fill="#000" />
<rect x="586.00" y="389.40" width="6.00" height="2.00" fill="#000" />
<rect x="587.80" y="391.20" width="2.40" height="1.30" fill="#000" />
<rect x="586.00" y="394.00" width="6.00" height="2.00" fill="#000" />
<rect x="594.40" y="387.80" width="3.60" height="1.80" fill="#000" />
<rect x="593.20" y="389.40" width="6.00" height="2.00" fill="#000" />
<rect x="595.00" y="391.20" width="2.40" height="1.30" fill="#000" />
<rect x="593.00" y="394.00" width="6.00" height="2.00" fill="#000" />
<rect x="511.00" y="392.00" width="89.00" height="1.00" fill="#000" />
<rect x="515.00" y="397.00" width="6.00" height="6.00" fill="#000" />
<rect x="516.00" y="398.00" width="4.00" height="4.00" fill="#fff" />
<rect x="523.00" y="397.00" width="6.00" height="6.00" fill="#000" />
<rect x="524.00" y="398.00" width="4.00" height="4.00" fill="#fff" />
<rect x="530.00" y="397.00" width="6.00" height="6.00" fill="#000" />
<rect x="531.00" y="398.00" width="4.00" height="4.00" fill="#fff" />
<rect x="538.00" y="397.00" width="6.00" height="6.00" fill="#000" />
<rect x="539.00" y="398.00" width="4.00" height="4.00" fill="#fff" />
<rect x="545.00" y="397.00" width="6.00" height="6.00" fill="#000" />
<rect x="546.00" y="398.00" width="4.00" height="4.00" fill="#fff" />
<rect x="553.00" y="397.00" width="6.00" height="6.00" fill="#000" />
<rect x="554.00" y="398.00" width="4.00" height="4.00" fill="#fff" />
<rect x="560.00" y="397.00" width="6.00" height="6.00" fill="#000" />
<rect x="561.00" y="398.00" width="4.00" height="4.00" fill="#fff" />
<rect x="567.00" y="397.00" width="6.00" height="6.00" fill="#000" />
<rect x="568.00" y="398.00" width="4.00" height="4.00" fill="#fff" />
<rect x="574.00" y="397.00" width="6.00" height="6.00" fill="#000" />
<rect x="575.00" y="398.00" width="4.00" height="4.00" fill="#fff" />
<rect x="582.00" y="397.00" width="6.00" height="6.00" fill="#000" />
<rect x="583.00" y="398.00" width="4.00" height="4.00" fill="#fff" />
<rect x="590.00" y="397.00" width="6.00" height="6.00" fill="#000" />
<rect x="591.00" y="398.00" width="4.00" height="4.00" fill="#fff" />
<rect x="510.00" y="398.00" width="3.00" height="1.00" fill="#000" />
<rect x="512.00" y="398.00" width="1.00" height="5.00" fill="#000" />
<rect x="510.00" y="402.00" width="3.00" height="1.00" fill="#000" />
<rect x="510.00" y="399.00" width="1.00" height="3.00" fill="#fff" />
<rect x="598.00" y="398.00" width="3.00" height="1.00" fill="#000" />
<rect x="598.00" y="398.00" width="1.00" height="5.00" fill="#000" />
<rect x="598.00" y="402.00" width="3.00" height="1.00" fill="#000" />
<rect x="600.00" y="399.00" width="1.00" height="3.00" fill="#fff" />
<polygon points="622,350 641,350 641,346 644,346 644,344.6 647,344.6 647,386 644,386 644,383.5 641,383.5 641,380 622,380" fill="#000"/>
<rect x="617.00" y="356.00" width="6.00" height="18.00" fill="#000" />
<rect x="618.00" y="358.00" width="3.00" height="5.00" fill="#fff" />
<rect x="618.00" y="367.00" width="3.00" height="5.00" fill="#fff" />
</g>
<g filter="url(#tx)">
<text transform="translate(234.4,48) rotate(-90)" font-size="12.5" fill="#fff" letter-spacing="0.9">AMP</text>
<text x="167.10" y="73.09" font-size="11" text-anchor="middle" fill="#000" textLength="21.2" lengthAdjust="spacingAndGlyphs">CPU</text>
<text x="162.00" y="156.94" font-size="11" text-anchor="middle" fill="#000" >SL1</text>
<text x="509.40" y="40.40" font-size="10.5" text-anchor="middle" fill="#000" textLength="18.6" lengthAdjust="spacingAndGlyphs">PC1</text>
<text x="509.40" y="76.40" font-size="10.5" text-anchor="middle" fill="#000" textLength="18.6" lengthAdjust="spacingAndGlyphs">PC2</text>
<text x="509.40" y="112.40" font-size="10.5" text-anchor="middle" fill="#000" textLength="18.6" lengthAdjust="spacingAndGlyphs">PC3</text>
<text x="509.40" y="147.40" font-size="10.5" text-anchor="middle" fill="#000" textLength="18.6" lengthAdjust="spacingAndGlyphs">PC4</text>
<text x="504.00" y="56.20" font-size="9" text-anchor="middle" fill="#000" >M3509</text>
<text x="121.40" y="322.80" font-size="11" text-anchor="start" fill="#000" word-spacing="2.2">BANK 0</text>
<text x="121.40" y="375.80" font-size="11" text-anchor="start" fill="#000" word-spacing="2.2">BANK 1</text>
<text x="16.30" y="30.14" font-size="11" text-anchor="middle" fill="#000" >J39</text>
<text x="16.30" y="45.74" font-size="11" text-anchor="middle" fill="#000" >J43</text>
<text x="16.30" y="62.24" font-size="11" text-anchor="middle" fill="#000" >J40</text>
<text x="16.30" y="80.44" font-size="11" text-anchor="middle" fill="#000" >J41</text>
<text x="16.30" y="109.74" font-size="11" text-anchor="middle" fill="#000" >J18</text>
<text x="73.55" y="17.64" font-size="11" text-anchor="middle" fill="#000" >W14</text>
<text x="280.00" y="26.24" font-size="11" text-anchor="middle" fill="#000" textLength="15.2" lengthAdjust="spacingAndGlyphs">W2</text>
<text x="255.50" y="61.24" font-size="11" text-anchor="middle" fill="#000" >W10</text>
<text x="335.25" y="20.99" font-size="11" text-anchor="middle" fill="#000" textLength="15.2" lengthAdjust="spacingAndGlyphs">W4</text>
<text x="353.75" y="39.04" font-size="11" text-anchor="middle" fill="#000" textLength="15.2" lengthAdjust="spacingAndGlyphs">W5</text>
<text x="358.10" y="124.04" font-size="11" text-anchor="middle" fill="#000" textLength="15.2" lengthAdjust="spacingAndGlyphs">W8</text>
<text x="414.00" y="42.99" font-size="11" text-anchor="middle" fill="#000" >J26</text>
<text x="490.25" y="24.24" font-size="11" text-anchor="middle" fill="#000" >J44</text>
<text x="590.25" y="162.99" font-size="11" text-anchor="middle" fill="#000" >J45</text>
<text x="594.75" y="272.24" font-size="11" text-anchor="middle" fill="#000" >J46</text>
<text x="627.70" y="301.19" font-size="11" text-anchor="middle" fill="#000" >J12</text>
<text x="570.05" y="310.64" font-size="11" text-anchor="middle" fill="#000" >J21</text>
<text x="577.00" y="341.74" font-size="11" text-anchor="middle" fill="#000" >J20</text>
<text x="499.40" y="332.60" font-size="11" text-anchor="middle" fill="#000" textLength="16" lengthAdjust="spacingAndGlyphs">W9</text>
<text x="474.95" y="372.39" font-size="11" text-anchor="middle" fill="#000" >J19</text>
<text x="390.75" y="287.99" font-size="11" text-anchor="middle" fill="#000" >J10</text>
<text x="323.25" y="344.99" font-size="11" text-anchor="middle" fill="#000" >J9</text>
<text x="320.75" y="376.24" font-size="11" text-anchor="middle" fill="#000" >J11</text>
<text x="313.00" y="318.49" font-size="11" text-anchor="middle" fill="#000" textLength="15.2" lengthAdjust="spacingAndGlyphs">W6</text>
<text x="384.25" y="410.74" font-size="11" text-anchor="middle" fill="#000" >J48</text>
<text x="246.25" y="426.49" font-size="11" text-anchor="middle" fill="#000" >J49</text>
<text x="306.40" y="206.74" font-size="11" text-anchor="middle" fill="#000" >J22</text>
<text x="269.50" y="238.99" font-size="11" text-anchor="middle" fill="#000" >J23</text>
</g></svg>
</body></html>
